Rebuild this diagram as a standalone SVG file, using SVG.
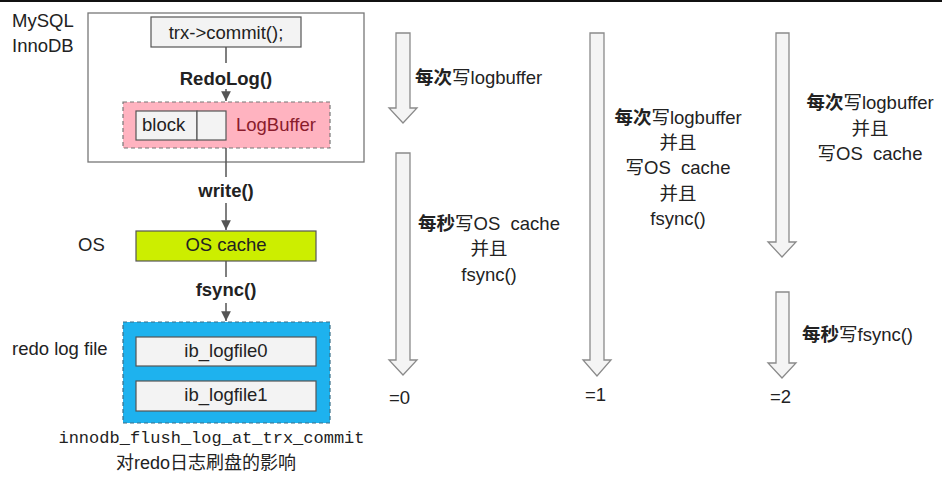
<svg xmlns="http://www.w3.org/2000/svg" width="942" height="483" viewBox="0 0 942 483">
<style>
text{font-family:"Liberation Sans",Arial,"Noto Sans CJK SC",sans-serif;font-size:18.5px;fill:#222;white-space:pre}
.c{text-anchor:middle}
.b{font-weight:bold}
.mono{font-family:"Liberation Mono","Noto Sans CJK SC",monospace;font-size:17px}
.box{fill:#f3f3f3;stroke:#555;stroke-width:1.2}
.big{fill:#f4f4f4;stroke:#8a8a8a;stroke-width:1.3}
.conn{stroke:#555;stroke-width:1.5;fill:none}
</style>
<defs>
<marker id="ah" viewBox="0 0 10 10" refX="10" refY="5" markerWidth="6.5" markerHeight="6.5" markerUnits="strokeWidth" orient="auto">
<path d="M0,0 L10,5 L0,10 z" fill="#555"/>
</marker>
</defs>
<rect x="0" y="0" width="942" height="2" fill="#111"/>

<g id="labels">
<text x="12" y="27">MySQL</text>
<text x="12" y="52">InnoDB</text>
<text x="78" y="251">OS</text>
<text x="12" y="355">redo log file</text>
</g>

<g id="innodb">
<rect x="88" y="13" width="276" height="149" fill="#fff" stroke="#777" stroke-width="1.3"/>
</g>

<g id="trx">
<rect class="box" x="151" y="17" width="150" height="30"/>
<text class="c" x="226" y="39">trx-&gt;commit();</text>
</g>

<g id="logbuffer">
<rect x="123" y="102" width="207" height="46" fill="#ffb3c0" stroke="#777" stroke-width="1.2" stroke-dasharray="4,3"/>
<rect class="box" x="136" y="111" width="61" height="29"/>
<rect class="box" x="197" y="111" width="29" height="29"/>
<text x="142" y="131">block</text>
<text x="236" y="131" style="fill:#8a1c2c">LogBuffer</text>
</g>

<g id="oscache">
<rect x="136" y="231" width="180" height="30" fill="#ccee00" stroke="#555" stroke-width="1.2"/>
<text class="c" x="226" y="251">OS cache</text>
</g>

<g id="redofile">
<rect x="123" y="322" width="207" height="101" fill="#1eb2ee" stroke="#3a6f88" stroke-width="1.2" stroke-dasharray="4,3"/>
<rect class="box" x="136" y="337" width="180" height="29"/>
<text class="c" x="226" y="357">ib_logfile0</text>
<rect class="box" x="136" y="381" width="180" height="30"/>
<text class="c" x="226" y="401">ib_logfile1</text>
</g>

<g id="connectors">
<line class="conn" x1="226" y1="47" x2="226" y2="63"/>
<line class="conn" x1="226" y1="89" x2="226" y2="101" marker-end="url(#ah)"/>
<line class="conn" x1="226" y1="148" x2="226" y2="177"/>
<line class="conn" x1="226" y1="203" x2="226" y2="230" marker-end="url(#ah)"/>
<line class="conn" x1="226" y1="261" x2="226" y2="277"/>
<line class="conn" x1="226" y1="303" x2="226" y2="321" marker-end="url(#ah)"/>
<text class="c b" x="226" y="85">RedoLog()</text>
<text class="c b" x="226" y="197">write()</text>
<text class="c b" x="226" y="296">fsync()</text>
</g>

<g id="arrows">
<path class="big" d="M396,33 H410 V108 H417 L403,123 L389,108 H396 Z"/>
<path class="big" d="M396,153 H410 V360 H417 L403,375 L389,360 H396 Z"/>
<path class="big" d="M590,33 H604 V360 H611 L597,376 L583,360 H590 Z"/>
<path class="big" d="M776,33 H789 V242 H796 L782,257 L768,242 H776 Z"/>
<path class="big" d="M776,292 H789 V363 H796 L782,378 L768,363 H776 Z"/>
</g>

<g id="col0">
<text x="415" y="84"><tspan class="b">每次</tspan>写logbuffer</text>
<text class="c" x="489" y="230"><tspan class="b">每秒</tspan>写OS  cache</text>
<text class="c" x="489" y="255">并且</text>
<text class="c" x="489" y="281">fsync()</text>
<text x="389" y="404">=0</text>
</g>

<g id="col1">
<text class="c" x="678" y="123.5"><tspan class="b">每次</tspan>写logbuffer</text>
<text class="c" x="678" y="148.5">并且</text>
<text class="c" x="678" y="173.5">写OS  cache</text>
<text class="c" x="678" y="199.5">并且</text>
<text class="c" x="678" y="225">fsync()</text>
<text x="585" y="401">=1</text>
</g>

<g id="col2">
<text class="c" x="870" y="108.5"><tspan class="b">每次</tspan>写logbuffer</text>
<text class="c" x="870" y="134.5">并且</text>
<text class="c" x="870" y="159.5">写OS  cache</text>
<text x="802" y="341"><tspan class="b">每秒</tspan>写fsync()</text>
<text x="770" y="403">=2</text>
</g>

<g id="caption">
<text class="c mono" x="211.5" y="443">innodb_flush_log_at_trx_commit</text>
<text class="c" x="206" y="469" style="font-size:18px">对redo日志刷盘的影响</text>
</g>
</svg>
